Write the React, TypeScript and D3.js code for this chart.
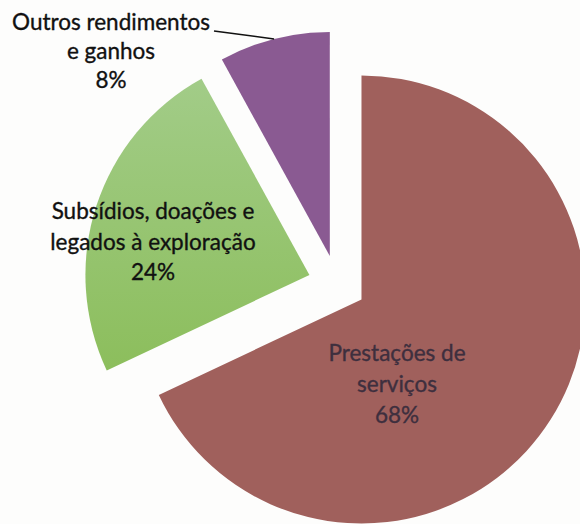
import React from "react";
import * as d3 from "d3";

const categories = ["Prestações de serviços", "Subsídios, doações e legados à exploração", "Outros rendimentos e ganhos"];
const values = [68, 24, 8];
const labelLines = [
  ["Prestações de", "serviços", "68%"],
  ["Subsídios, doações e", "legados à exploração", "24%"],
  ["Outros rendimentos", "e ganhos", "8%"],
];
const colors = ["#a0605c", "url(#greenGrad)", "#8a5a92"];

const W = 580;
const H = 524;
const CX = 337;
const CY = 284;
const R = 224;
const EXPLODE = 29;

export default function App() {
  const pie = d3.pie<number>().sort(null).startAngle(0).endAngle(2 * Math.PI);
  const arcs = pie(values);
  const arcGen = d3.arc<d3.PieArcDatum<number>>().innerRadius(0).outerRadius(R);

  const labelPos = [
    { x: 397, y: 361, fill: "#3e2f3e", size: 22.5 },
    { x: 153, y: 219, fill: "#111", size: 22.5 },
    { x: 111, y: 30, fill: "#111", size: 22.5 },
  ];
  const lh = [31, 30.5, 29];

  const a = arcs[2];
  const mid = (a.startAngle + a.endAngle) / 2;
  const px = CX + Math.sin(mid) * (EXPLODE + R);
  const py = CY - Math.cos(mid) * (EXPLODE + R);

  return (
    <svg width={W} height={H} style={{ position: "absolute", left: 0, top: 0, background: "#fdfdfc" }}>
      <defs>
        <linearGradient id="greenGrad" x1="0" y1="0" x2="0" y2="1">
          <stop offset="0%" stopColor="#a2cc88" />
          <stop offset="100%" stopColor="#8cbe5c" />
        </linearGradient>
      </defs>
      {arcs.map((d, i) => {
        const m = (d.startAngle + d.endAngle) / 2;
        const dx = Math.sin(m) * EXPLODE;
        const dy = -Math.cos(m) * EXPLODE;
        return (
          <path
            key={categories[i]}
            d={arcGen(d) || ""}
            transform={`translate(${CX + dx},${CY + dy})`}
            fill={colors[i]}
          />
        );
      })}
      <path d={`M214,31 L${px},${py}`} stroke="#111" strokeWidth={1.6} fill="none" />
      {labelLines.map((lines, i) => (
        <text
          key={i}
          textAnchor="middle"
          fontFamily="Lato, 'Open Sans', sans-serif"
          fontSize={labelPos[i].size}
          fill={labelPos[i].fill}
          stroke={labelPos[i].fill}
          strokeWidth={0.35}
        >
          {lines.map((t, j) => (
            <tspan key={j} x={labelPos[i].x} y={labelPos[i].y + j * lh[i]}>
              {t}
            </tspan>
          ))}
        </text>
      ))}
    </svg>
  );
}
